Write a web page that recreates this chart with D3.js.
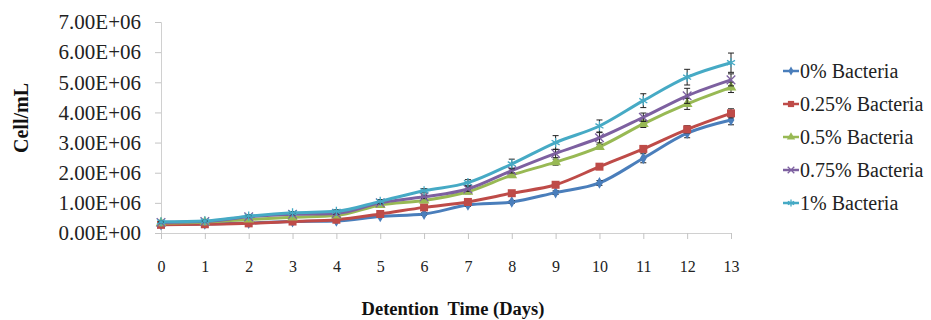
<!DOCTYPE html>
<html>
<head>
<meta charset="utf-8">
<script src="https://cdnjs.cloudflare.com/ajax/libs/d3/7.8.5/d3.min.js"></script>
<style>
  html, body { margin: 0; padding: 0; background: #fff; }
  svg text { font-family: "Times New Roman", "Liberation Serif", "DejaVu Serif", serif; }
</style>
</head>
<body>
<div id="chart"></div>
<script>
// --- Data (cells/mL, in millions) ---
const days = [0, 1, 2, 3, 4, 5, 6, 7, 8, 9, 10, 11, 12, 13];
const seriesNames = ['0% Bacteria', '0.25% Bacteria', '0.5% Bacteria', '0.75% Bacteria', '1% Bacteria'];
const bact0   = [0.28, 0.30, 0.33, 0.38, 0.40, 0.55, 0.63, 0.93, 1.03, 1.34, 1.66, 2.48, 3.31, 3.75];
const bact025 = [0.27, 0.29, 0.32, 0.38, 0.44, 0.63, 0.85, 1.03, 1.32, 1.60, 2.20, 2.79, 3.44, 3.97];
const bact05  = [0.33, 0.36, 0.45, 0.52, 0.58, 0.93, 1.08, 1.37, 1.92, 2.35, 2.86, 3.62, 4.28, 4.83];
const bact075 = [0.35, 0.38, 0.54, 0.62, 0.65, 1.00, 1.20, 1.46, 2.07, 2.64, 3.16, 3.84, 4.55, 5.08];
const bact1   = [0.37, 0.40, 0.56, 0.67, 0.72, 1.05, 1.40, 1.67, 2.29, 3.00, 3.55, 4.39, 5.17, 5.65];
// error bars (+/-), millions
const err0   = [0.02, 0.02, 0.02, 0.02, 0.03, 0.03, 0.04, 0.05, 0.05, 0.06, 0.08, 0.15, 0.15, 0.16];
const err025 = [0.02, 0.02, 0.02, 0.03, 0.03, 0.04, 0.05, 0.05, 0.06, 0.07, 0.08, 0.10, 0.12, 0.15];
const err05  = [0.02, 0.02, 0.03, 0.03, 0.04, 0.05, 0.06, 0.07, 0.08, 0.10, 0.08, 0.12, 0.18, 0.17];
const err075 = [0.02, 0.02, 0.03, 0.03, 0.04, 0.05, 0.06, 0.08, 0.08, 0.14, 0.17, 0.14, 0.25, 0.20];
const err1   = [0.03, 0.03, 0.04, 0.04, 0.05, 0.06, 0.07, 0.10, 0.16, 0.23, 0.20, 0.23, 0.26, 0.32];
const yTicks = [0, 1e6, 2e6, 3e6, 4e6, 5e6, 6e6, 7e6];

const FONT = '"Times New Roman", "Liberation Serif", "DejaVu Serif", serif';

const series = [
  { name: seriesNames[0], values: bact0,   err: err0,   color: '#4a7ebb', symbol: d3.symbolDiamond,  size: 40, stroke: false },
  { name: seriesNames[1], values: bact025, err: err025, color: '#be4b48', symbol: d3.symbolSquare,   size: 64, stroke: false },
  { name: seriesNames[2], values: bact05,  err: err05,  color: '#98b954', symbol: d3.symbolTriangle, size: 50, stroke: false },
  { name: seriesNames[3], values: bact075, err: err075, color: '#7d60a0', symbol: d3.symbolTimes,    size: 50, stroke: true },
  { name: seriesNames[4], values: bact1,   err: err1,   color: '#46aac5', symbol: d3.symbolAsterisk, size: 60, stroke: true },
];

const W = 931, H = 320;
const svg = d3.select('#chart').append('svg').attr('width', W).attr('height', H)
  .attr('font-family', FONT);

// --- Scales ---
const x = d3.scaleLinear().domain([0, 13]).range([161, 731]);
const y = d3.scaleLinear().domain([0, 7e6]).range([233, 22]);

// --- Axes ---
const yAxis = svg.append('g')
  .attr('transform', 'translate(161,0)')
  .call(d3.axisLeft(y).tickValues(yTicks).tickSize(6).tickPadding(14)
    .tickFormat(d => (d / 1e6).toFixed(2) + (d === 0 ? 'E+00' : 'E+06')));
yAxis.attr('font-family', FONT).attr('font-size', null);
yAxis.select('.domain').attr('stroke', '#d0d0d0');
yAxis.selectAll('line').attr('stroke', '#c4c4c4');
yAxis.selectAll('text').attr('fill', '#222').style('font-size', '21px').style('font-family', FONT);

const xAxis = svg.append('g')
  .attr('transform', 'translate(0,233)')
  .call(d3.axisBottom(x).tickValues(days).tickSize(6).tickPadding(22).tickFormat(d3.format('d')));
xAxis.attr('font-family', FONT).attr('font-size', null);
xAxis.select('.domain').attr('stroke', '#d0d0d0');
xAxis.selectAll('line').attr('stroke', '#c4c4c4');
xAxis.selectAll('text').attr('fill', '#222').style('font-size', '16px').style('font-family', FONT);

// --- Axis titles ---
svg.append('text')
  .attr('transform', 'translate(28,118) rotate(-90)')
  .attr('text-anchor', 'middle')
  .style('font-family', FONT)
  .style('font-size', '20px').style('font-weight', 'bold').attr('fill', '#111')
  .text('Cell/mL');

svg.append('text')
  .attr('x', 453).attr('y', 315)
  .attr('text-anchor', 'middle')
  .style('font-family', FONT)
  .style('font-size', '18.5px').style('font-weight', 'bold').style('white-space', 'pre').attr('fill', '#111')
  .text('Detention  Time (Days)');

// --- Series ---
const line = d3.line()
  .x((d, i) => x(days[i]))
  .y(d => y(d * 1e6))
  .curve(d3.curveMonotoneX);

function drawMarker(g, s, px, py) {
  const path = d3.symbol().type(s.symbol).size(s.size)();
  const m = g.append('path').attr('d', path).attr('transform', `translate(${px},${py})`);
  if (s.stroke) m.attr('fill', 'none').attr('stroke', s.color).attr('stroke-width', 1.3);
  else m.attr('fill', s.color);
}

series.forEach(s => {
  const g = svg.append('g');
  g.append('path')
    .datum(s.values)
    .attr('fill', 'none')
    .attr('stroke', s.color)
    .attr('stroke-width', 3)
    .attr('stroke-linejoin', 'round')
    .attr('d', line);

  // error bars
  s.values.forEach((v, i) => {
    const cx = x(days[i]);
    const y0 = y((v - s.err[i]) * 1e6), y1 = y((v + s.err[i]) * 1e6);
    const eb = g.append('g').attr('stroke', '#222').attr('stroke-width', 1);
    eb.append('line').attr('x1', cx).attr('x2', cx).attr('y1', y0).attr('y2', y1);
    eb.append('line').attr('x1', cx - 3).attr('x2', cx + 3).attr('y1', y0).attr('y2', y0);
    eb.append('line').attr('x1', cx - 3).attr('x2', cx + 3).attr('y1', y1).attr('y2', y1);
  });

  s.values.forEach((v, i) => drawMarker(g, s, x(days[i]), y(v * 1e6)));
});

// --- Legend ---
const legend = svg.append('g');
series.forEach((s, i) => {
  const ly = 71 + i * 33;
  const lg = legend.append('g');
  lg.append('line').attr('x1', 783).attr('x2', 799).attr('y1', ly).attr('y2', ly)
    .attr('stroke', s.color).attr('stroke-width', 2.5);
  drawMarker(lg, { ...s, size: s.size * 0.6 }, 791, ly);
  lg.append('text').attr('x', 800).attr('y', ly + 7)
    .style('font-family', FONT)
    .style('font-size', '20px').attr('fill', '#222')
    .text(s.name);
});
</script>
</body>
</html>
